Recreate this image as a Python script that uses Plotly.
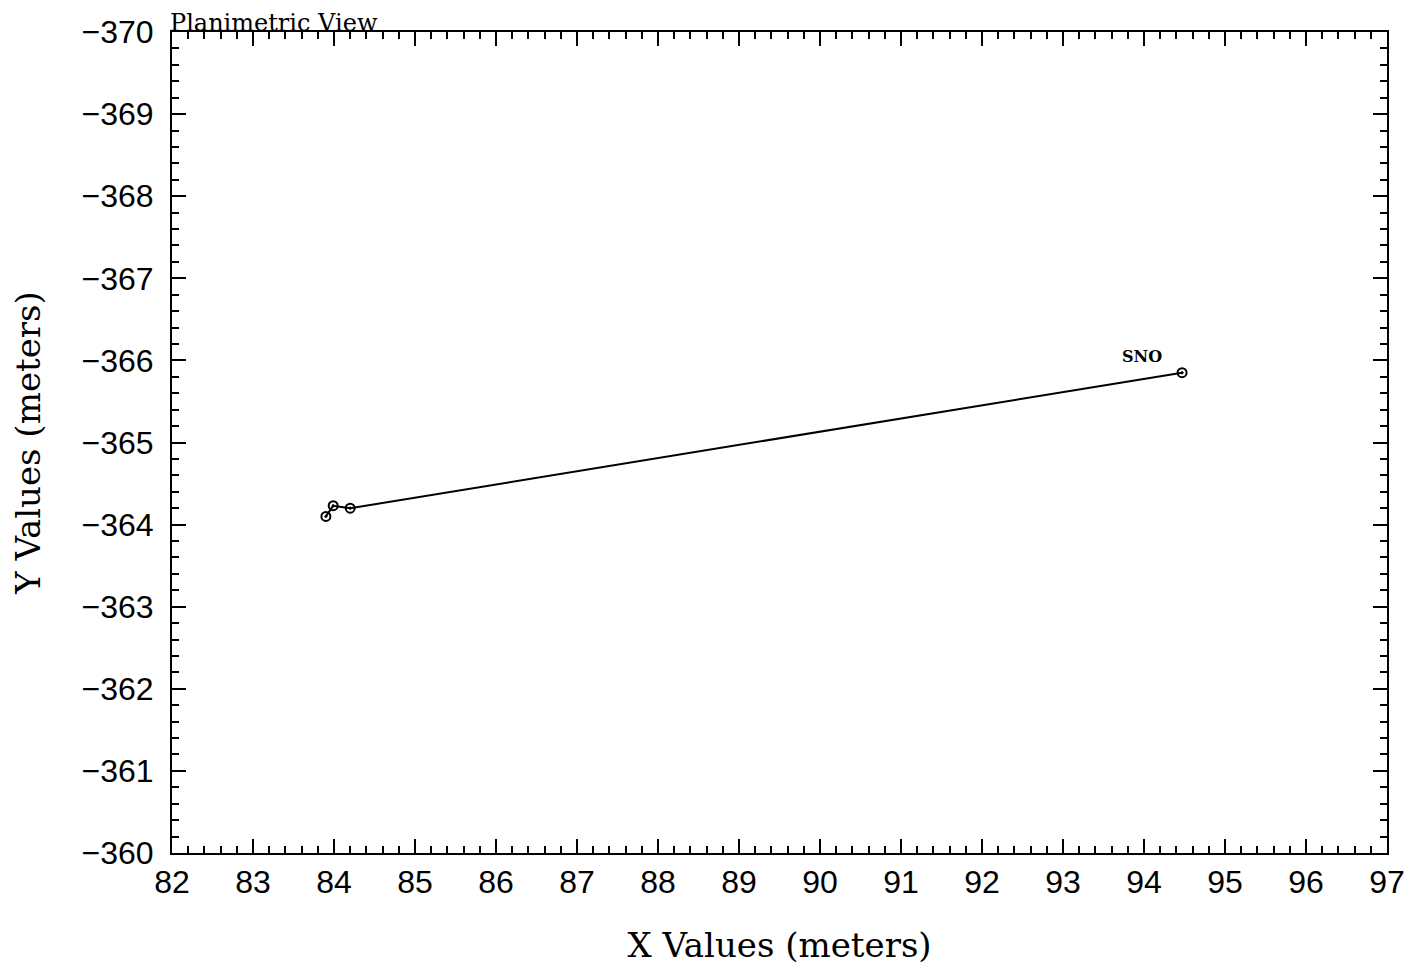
import plotly.graph_objects as go

x_vals = [83.90, 83.99, 84.20, 94.47]
y_vals = [-364.10, -364.23, -364.20, -365.85]
label_text = "SNO"
label_x = 93.97
label_y = -366.05

fig = go.Figure()
fig.add_trace(go.Scatter(
    x=x_vals, y=y_vals, mode="lines+markers",
    line=dict(color="black", width=2),
    marker=dict(symbol="circle-open-dot", size=9, color="black", line=dict(width=2)),
    showlegend=False,
))
fig.add_annotation(x=label_x, y=label_y, text="<b>" + label_text + "</b>", showarrow=False,
                   font=dict(family="DejaVu Serif", size=16, color="black"))
fig.add_annotation(x=0, y=1, xref="paper", yref="paper", xanchor="left", yanchor="bottom",
                   text="Planimetric View", showarrow=False, yshift=-6, xshift=-3, borderpad=0,
                   font=dict(family="DejaVu Serif", size=24, color="black"))

axis_common = dict(
    showline=True, linecolor="black", linewidth=2, mirror="allticks",
    ticks="inside", ticklen=14, tickwidth=2, tickcolor="black",
    showgrid=False, zeroline=False, automargin=False,
    tickfont=dict(family="Liberation Sans", size=32, color="black"),
    minor=dict(ticks="inside", ticklen=7, tickwidth=1.5, tickcolor="black", dtick=0.2, showgrid=False),
)
fig.update_xaxes(range=[82, 97], dtick=1, tick0=82,
                 title=dict(text="X Values (meters)", font=dict(family="DejaVu Serif", size=34, color="black"), standoff=34),
                 **axis_common)
fig.update_yaxes(range=[-360, -370], dtick=1, tick0=-370, ticklabelstandoff=10,
                 title=dict(text="Y Values (meters)", font=dict(family="DejaVu Serif", size=34, color="black"), standoff=42),
                 **axis_common)
fig.update_layout(width=1420, height=966, margin=dict(l=164, r=41, t=24, b=121),
                  plot_bgcolor="white", paper_bgcolor="white")
fig.write_html("out.html")
